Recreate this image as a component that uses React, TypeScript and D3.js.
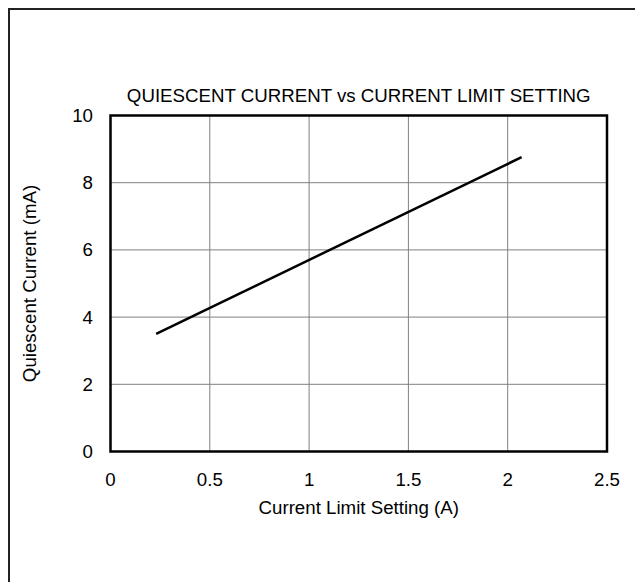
import React from "react";
import * as d3 from "d3";

const xTicks = [0, 0.5, 1, 1.5, 2, 2.5];
const xTickLabels = ["0", "0.5", "1", "1.5", "2", "2.5"];
const yTicks = [0, 2, 4, 6, 8, 10];
const yTickLabels = ["0", "2", "4", "6", "8", "10"];
const limitSetting = [0.23, 2.07];
const quiescent = [3.5, 8.76];
const title = "QUIESCENT CURRENT vs CURRENT LIMIT SETTING";
const xTitle = "Current Limit Setting (A)";
const yTitle = "Quiescent Current (mA)";

export default function App() {
  const W = 643, H = 582;
  const left = 102.5, right = 599, top = 107.5, bottom = 443.5;
  const fs = 18.7;
  const x = d3.scaleLinear().domain([0, 2.5]).range([left, right]);
  const y = d3.scaleLinear().domain([0, 10]).range([bottom, top]);
  const pts = limitSetting.map((v, i) => [v, quiescent[i]] as [number, number]);
  const line = d3.line<[number, number]>().x(d => x(d[0])).y(d => y(d[1]));
  const font = "'Liberation Sans', Arial, sans-serif";
  return (
    <svg width={W} height={H} style={{ display: "block", overflow: "visible" }} fontFamily={font}>
      <rect x={1} y={1} width={700} height={700} fill="white" stroke="#222" strokeWidth={2} />
      {xTicks.slice(1, -1).map(t => (
        <line key={"gx" + t} x1={x(t)} x2={x(t)} y1={top} y2={bottom} stroke="#808080" strokeWidth={1} />
      ))}
      {yTicks.slice(1, -1).map(t => (
        <line key={"gy" + t} x1={left} x2={right} y1={y(t)} y2={y(t)} stroke="#808080" strokeWidth={1} />
      ))}
      <rect x={left} y={top} width={right - left} height={bottom - top} fill="none" stroke="#000" strokeWidth={2.5} />
      <path d={line(pts) || ""} fill="none" stroke="#000" strokeWidth={2.5} />
      {xTicks.map((t, i) => (
        <text key={"xt" + t} x={x(t)} y={bottom + 34.5} textAnchor="middle" fontSize={fs} fill="#000">{xTickLabels[i]}</text>
      ))}
      {yTicks.map((t, i) => (
        <text key={"yt" + t} x={left - 17.5} y={y(t)} dy="0.35em" textAnchor="end" fontSize={fs} fill="#000">{yTickLabels[i]}</text>
      ))}
      <text x={(left + right) / 2} y={top - 14} textAnchor="middle" fontSize={fs} fill="#000">{title}</text>
      <text x={(left + right) / 2} y={bottom + 62.5} textAnchor="middle" fontSize={fs} fill="#000">{xTitle}</text>
      <text transform={`translate(28,${(top + bottom) / 2}) rotate(-90)`} textAnchor="middle" fontSize={fs} fill="#000">{yTitle}</text>
    </svg>
  );
}
